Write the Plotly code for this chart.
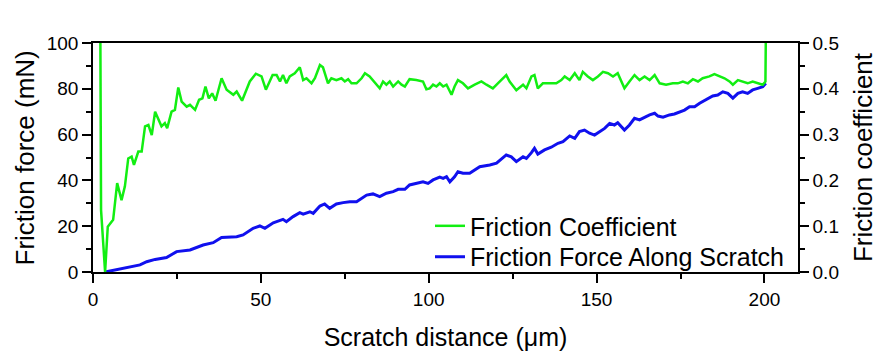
import plotly.graph_objects as go

# Friction coefficient (right axis)
coef_x = [2.2, 2.4, 3.6, 4.4, 6.0, 7.2, 8.5, 9.5, 10.5, 11.5, 12.2, 13.5, 14.5, 15.5, 16.5, 17.5,
          18.5, 20.4, 21.4, 22.1, 23.4, 24.4, 25.4, 26.4, 27.9, 28.9, 30.4, 31.6, 32.6, 33.5, 34.5,
          35.5, 36.5, 38.3, 39.8, 41.8, 42.8, 44.4, 46.7, 48.5, 50.2, 51.5, 53.5, 54.7, 55.7, 56.6,
          57.6, 58.6, 60.1, 61.6, 62.6, 63.6, 65.1, 66.1, 67.6, 68.5, 70.0, 71.0, 72.5, 74.0, 75.0,
          76.0, 77.0, 78.5, 80.0, 81.0, 82.4, 84.4, 85.4, 86.4, 87.4, 88.4, 89.4, 90.9, 91.9, 92.9,
          94.3, 96.3, 98.3, 99.3, 100.3, 101.3, 102.3, 103.3, 104.3, 105.3, 106.8, 107.7, 108.7,
          110.2, 111.7, 113.7, 115.7, 117.2, 119.1, 120.6, 123.1, 124.1, 126.1, 128.1, 129.1, 130.6,
          131.5, 132.5, 134.0, 136.0, 138.0, 139.5, 140.5, 142.0, 143.5, 144.9, 145.9, 147.4, 148.9,
          150.4, 151.9, 153.4, 154.9, 156.3, 157.3, 158.3, 159.8, 161.3, 162.8, 164.3, 165.8, 167.3,
          168.8, 170.7, 172.7, 174.2, 175.7, 177.2, 178.7, 180.2, 181.6, 183.6, 185.1, 186.6, 188.1,
          189.6, 190.6, 192.1, 193.5, 195.0, 196.5, 198.0, 199.5, 200.3, 200.4]
coef_y = [0.500, 0.135, 0.000, 0.099, 0.114, 0.194, 0.157, 0.187, 0.248, 0.252, 0.234, 0.263, 0.263,
          0.318, 0.321, 0.299, 0.350, 0.318, 0.325, 0.314, 0.350, 0.354, 0.403, 0.372, 0.361, 0.365,
          0.354, 0.376, 0.379, 0.405, 0.379, 0.390, 0.374, 0.423, 0.398, 0.387, 0.394, 0.374, 0.416,
          0.433, 0.427, 0.398, 0.430, 0.430, 0.416, 0.430, 0.412, 0.427, 0.434, 0.447, 0.419, 0.423,
          0.412, 0.423, 0.452, 0.447, 0.412, 0.423, 0.419, 0.423, 0.416, 0.421, 0.412, 0.412, 0.423,
          0.434, 0.427, 0.409, 0.401, 0.416, 0.409, 0.416, 0.405, 0.416, 0.409, 0.405, 0.421, 0.419,
          0.416, 0.399, 0.401, 0.409, 0.405, 0.412, 0.405, 0.409, 0.387, 0.405, 0.419, 0.412, 0.401,
          0.409, 0.416, 0.409, 0.401, 0.412, 0.430, 0.416, 0.397, 0.409, 0.401, 0.427, 0.430, 0.401,
          0.412, 0.412, 0.412, 0.419, 0.427, 0.419, 0.434, 0.419, 0.437, 0.427, 0.419, 0.427, 0.437,
          0.434, 0.427, 0.434, 0.419, 0.401, 0.416, 0.430, 0.419, 0.427, 0.419, 0.430, 0.412, 0.409,
          0.412, 0.412, 0.416, 0.412, 0.421, 0.416, 0.423, 0.427, 0.432, 0.427, 0.423, 0.416, 0.409,
          0.419, 0.416, 0.412, 0.416, 0.412, 0.409, 0.416, 0.500]

# Friction force along scratch (left axis, mN)
force_x = [3.6, 8.0, 11.0, 14.0, 16.0, 18.5, 21.9, 24.9, 28.9, 32.8, 35.8, 38.3, 42.8, 44.7, 47.7,
           49.7, 51.2, 53.7, 54.7, 56.6, 57.6, 59.6, 61.6, 62.6, 64.6, 65.6, 67.6, 69.0, 70.5, 72.5,
           74.5, 76.5, 78.5, 81.5, 83.4, 85.4, 87.4, 89.4, 90.9, 92.9, 94.3, 96.3, 98.3, 99.8, 101.3,
           103.3, 104.3, 105.3, 106.3, 107.7, 108.7, 110.2, 112.2, 115.2, 118.2, 120.2, 123.1, 124.6,
           126.1, 128.1, 129.1, 130.6, 131.5, 132.5, 134.5, 136.5, 138.5, 140.0, 142.0, 143.5, 144.9,
           146.4, 147.9, 149.4, 150.9, 152.4, 153.9, 155.3, 156.3, 157.3, 158.3, 159.8, 161.3, 162.8,
           164.3, 165.8, 167.3, 168.3, 169.8, 171.7, 173.2, 174.7, 176.2, 177.7, 179.2, 180.7, 182.6,
           184.6, 186.1, 187.6, 189.1, 190.6, 192.1, 193.5, 195.0, 196.5, 198.0, 199.5, 200.4]
force_y = [0.0, 1.2, 2.3, 3.1, 4.5, 5.5, 6.3, 8.9, 9.6, 11.8, 12.8, 15.1, 15.4, 16.2, 19.1, 20.1, 19.1,
           21.5, 22.0, 23.0, 22.0, 24.2, 25.9, 25.3, 26.3, 25.6, 28.8, 29.7, 27.8, 29.7, 30.3, 30.7,
           30.7, 33.6, 34.1, 32.9, 34.4, 35.1, 36.1, 36.1, 38.0, 38.7, 39.4, 38.7, 40.2, 41.4, 40.9,
           41.6, 39.4, 41.6, 43.8, 43.1, 43.1, 46.0, 46.7, 47.5, 51.1, 50.3, 48.2, 50.3, 49.6, 52.1,
           54.0, 51.5, 53.3, 54.5, 56.2, 56.9, 59.4, 58.4, 61.3, 62.0, 60.6, 59.8, 61.3, 62.7, 64.9,
           64.2, 65.2, 63.5, 62.0, 64.2, 67.1, 66.4, 67.6, 68.6, 69.3, 68.1, 67.6, 68.6, 69.0, 70.0,
           70.7, 72.2, 72.2, 73.7, 75.1, 76.9, 77.3, 78.7, 78.0, 75.9, 78.0, 78.7, 78.0, 79.5, 80.2,
           80.9, 82.4]

x_ticks = [0, 50, 100, 150, 200]
y_ticks = [0, 20, 40, 60, 80, 100]
y2_ticks = [0.0, 0.1, 0.2, 0.3, 0.4, 0.5]

FONT = "Liberation Sans, Arial, sans-serif"
GREEN = "#12ee12"
BLUE = "#1010ee"

fig = go.Figure()
fig.add_trace(go.Scatter(x=coef_x, y=coef_y, mode="lines", name="Friction Coefficient",
                         line=dict(color=GREEN, width=2.5), yaxis="y2", legend="legend"))
fig.add_trace(go.Scatter(x=force_x, y=force_y, mode="lines", name="Friction Force Along Scratch",
                         line=dict(color=BLUE, width=3), yaxis="y", legend="legend2"))

axis_common = dict(showline=True, linecolor="black", linewidth=1.5, ticks="outside",
                   tickcolor="black", tickwidth=1.5, ticklen=9, showgrid=False, zeroline=False,
                   automargin=False,
                   tickfont=dict(family=FONT, size=19, color="black"))

legend_common = dict(xanchor="left", yanchor="top", bgcolor="rgba(0,0,0,0)",
                     font=dict(family=FONT, size=25, color="black"))

fig.update_layout(
    width=873, height=351,
    margin=dict(l=93, r=75, t=43, b=79),
    paper_bgcolor="white", plot_bgcolor="white",
    font=dict(family=FONT, color="black"),
    xaxis=dict(range=[0, 210], tickvals=x_ticks, mirror=True,
               minor=dict(dtick=25, ticklen=5, ticks="outside", tickcolor="black", tickwidth=1.5),
               title=dict(text="Scratch distance (\u03bcm)", font=dict(family=FONT, size=25), standoff=20),
               **axis_common),
    yaxis=dict(range=[0, 100], tickvals=y_ticks,
               minor=dict(dtick=10, ticklen=5, ticks="outside", tickcolor="black", tickwidth=1.5),
               **axis_common),
    yaxis2=dict(range=[0, 0.5], tickvals=y2_ticks, tickformat=".1f", overlaying="y", side="right",
                minor=dict(dtick=0.05, ticklen=5, ticks="outside", tickcolor="black", tickwidth=1.5),
                **axis_common),
    legend=dict(x=0.478, y=0.301, **legend_common),
    legend2=dict(x=0.478, y=0.166, **legend_common),
    showlegend=True,
    annotations=[
        dict(text="Friction force (mN)", textangle=-90, xref="paper", yref="paper",
             x=-0.0965, y=0.5, xanchor="center", yanchor="middle", showarrow=False,
             font=dict(family=FONT, size=26, color="black")),
        dict(text="Friction coefficient", textangle=-90, xref="paper", yref="paper",
             x=1.0915, y=0.5, xanchor="center", yanchor="middle", showarrow=False,
             font=dict(family=FONT, size=26, color="black")),
    ],
)

fig.write_html("out.html")
